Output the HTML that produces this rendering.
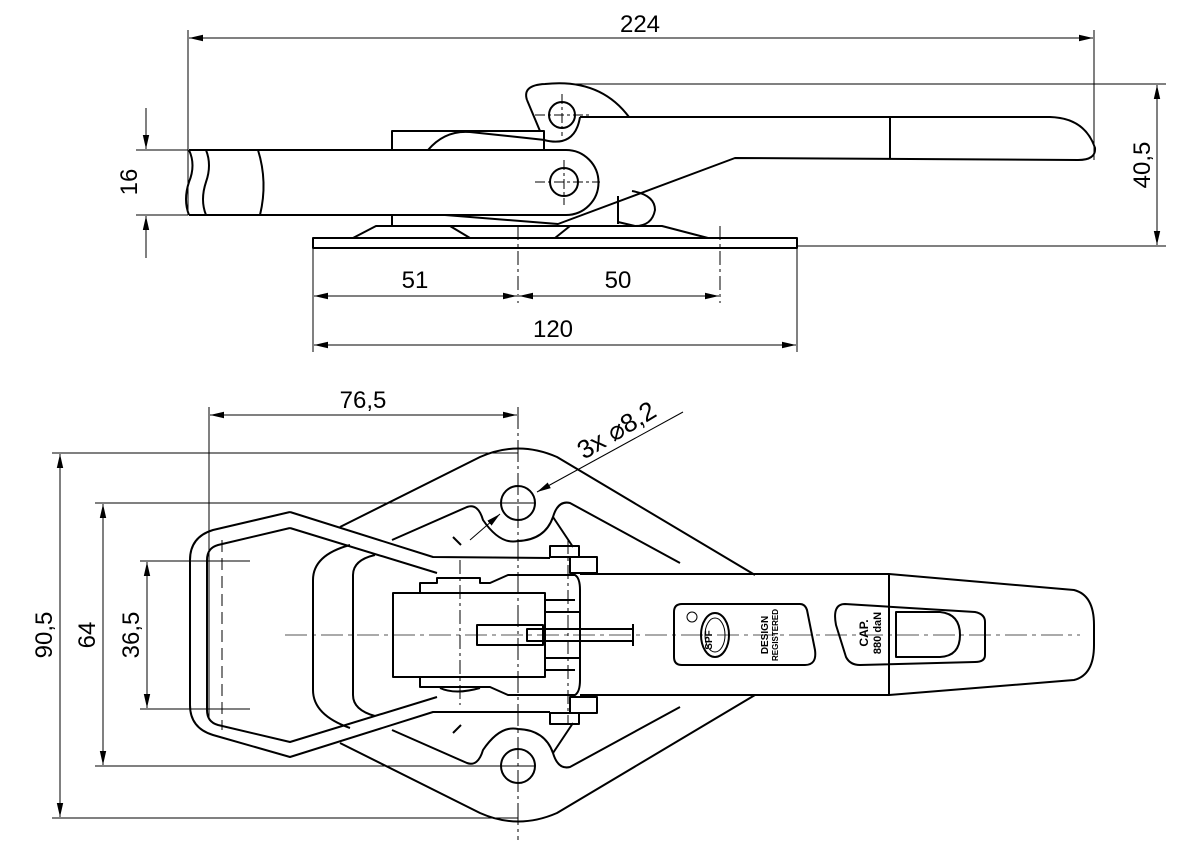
<!DOCTYPE html>
<html><head><meta charset="utf-8"><style>
html,body{margin:0;padding:0;background:#fff;}
svg{display:block;}
text{font-family:"Liberation Sans",sans-serif;fill:#000;}
</style></head><body>
<svg width="1200" height="848" viewBox="0 0 1200 848" xmlns="http://www.w3.org/2000/svg">
<defs>
<marker id="a" markerWidth="14" markerHeight="8" refX="14" refY="4" orient="auto-start-reverse" markerUnits="userSpaceOnUse">
<path d="M0,0.8 L14,4 L0,7.2 Z" fill="#000"/></marker>
</defs>
<g fill="none" stroke="#000" stroke-width="1">
<!-- TOP VIEW dims -->
<line x1="188" y1="30" x2="188" y2="215"/>
<line x1="1094" y1="30" x2="1094" y2="160"/>
<line x1="189" y1="38" x2="1093" y2="38" marker-start="url(#a)" marker-end="url(#a)"/>
<line x1="136" y1="150" x2="188" y2="150"/>
<line x1="136" y1="215" x2="188" y2="215"/>
<line x1="146" y1="108" x2="146" y2="149" marker-end="url(#a)"/>
<line x1="146" y1="258" x2="146" y2="216" marker-end="url(#a)"/>
<line x1="575" y1="84" x2="1166" y2="84"/>
<line x1="797" y1="246" x2="1166" y2="246"/>
<line x1="1157" y1="85" x2="1157" y2="245" marker-start="url(#a)" marker-end="url(#a)"/>
<line x1="313" y1="248" x2="313" y2="352"/>
<line x1="797" y1="248" x2="797" y2="352"/>
<line x1="720" y1="226" x2="720" y2="303" stroke-dasharray="14,4,3,4"/>
<line x1="518" y1="226" x2="518" y2="303" stroke-dasharray="14,4,3,4"/>
<line x1="314" y1="296" x2="517" y2="296" marker-start="url(#a)" marker-end="url(#a)"/>
<line x1="519" y1="296" x2="719" y2="296" marker-start="url(#a)" marker-end="url(#a)"/>
<line x1="314" y1="345" x2="796" y2="345" marker-start="url(#a)" marker-end="url(#a)"/>
<!-- center marks top -->
<line x1="535" y1="182" x2="600" y2="182" stroke-dasharray="10,3,3,3"/>
<line x1="564" y1="160" x2="564" y2="205" stroke-dasharray="10,3,3,3"/>
<line x1="535" y1="115" x2="590" y2="115" stroke-dasharray="10,3,3,3"/>
<line x1="562" y1="94" x2="562" y2="136" stroke-dasharray="10,3,3,3"/>

<!-- BOTTOM VIEW dims -->
<line x1="209" y1="407" x2="209" y2="720"/>
<line x1="518" y1="407" x2="518" y2="840" stroke-dasharray="22,4,3,4"/>
<line x1="210" y1="415" x2="517" y2="415" marker-start="url(#a)" marker-end="url(#a)"/>
<line x1="52" y1="453" x2="518" y2="453"/>
<line x1="52" y1="818" x2="518" y2="818"/>
<line x1="60" y1="454" x2="60" y2="817" marker-start="url(#a)" marker-end="url(#a)"/>
<line x1="95" y1="503" x2="535" y2="503"/>
<line x1="95" y1="766" x2="535" y2="766"/>
<line x1="103" y1="504" x2="103" y2="765" marker-start="url(#a)" marker-end="url(#a)"/>
<line x1="140" y1="561" x2="250" y2="561"/>
<line x1="140" y1="709" x2="250" y2="709"/>
<line x1="147" y1="562" x2="147" y2="708" marker-start="url(#a)" marker-end="url(#a)"/>
<line x1="683" y1="412" x2="537" y2="492" marker-end="url(#a)"/>
<line x1="470" y1="540" x2="500" y2="514" marker-end="url(#a)"/>
<line x1="285" y1="635" x2="1080" y2="635" stroke-dasharray="22,5,4,5" stroke="#555"/>
<line x1="222" y1="540" x2="222" y2="730" stroke-dasharray="12,6"/>
<line x1="460" y1="560" x2="460" y2="705" stroke-dasharray="14,4,3,4"/>
<line x1="568" y1="540" x2="568" y2="725" stroke-dasharray="14,4,3,4"/>
</g>

<g font-size="24">
<text x="640" y="32" text-anchor="middle">224</text>
<text x="415" y="288" text-anchor="middle">51</text>
<text x="618" y="288" text-anchor="middle">50</text>
<text x="553" y="337" text-anchor="middle">120</text>
<text x="363" y="408" text-anchor="middle">76,5</text>
<text transform="translate(137,182) rotate(-90)" text-anchor="middle">16</text>
<text transform="translate(1150,165) rotate(-90)" text-anchor="middle">40,5</text>
<text transform="translate(52,635) rotate(-90)" text-anchor="middle">90,5</text>
<text transform="translate(95,635) rotate(-90)" text-anchor="middle">64</text>
<text transform="translate(139,635) rotate(-90)" text-anchor="middle">36,5</text>
<text transform="translate(584,460) rotate(-31)" font-size="26">3x ⌀8,2</text>
</g>

<g fill="none" stroke="#000" stroke-width="2" stroke-linejoin="round">
<!-- TOP VIEW object -->
<rect x="313" y="238" width="484" height="10"/>
<path d="M353,238 L376,226 L662,226 L708,238"/>
<path d="M450,226 L470,238 M555,238 L570,226"/>
<rect x="392" y="131" width="152" height="19"/>
<line x1="392" y1="215" x2="392" y2="226"/>
<path d="M428,150 Q445,130 470,132 L545,140"/>
<path d="M189,150 L566,150 A32,32 0 0 1 566,215 L189,215"/>
<path d="M189,150 Q196,165 189,182 Q183,200 189,215"/>
<path d="M206,150 Q212,165 206,182 Q200,200 206,215"/>
<path d="M258,150 Q268,182 260,215"/>
<circle cx="564" cy="182" r="14"/>
<circle cx="562" cy="115" r="13"/>
<path d="M527,100 Q522,85 545,84 Q600,78 629,117"/>
<path d="M527,100 L540,131 M544,140 Q575,148 580,117"/>
<path d="M580,117 L1050,117 Q1085,118 1095,148 Q1096,160 1078,160 L735,158 L558,224 L445,215"/>
<line x1="890" y1="117" x2="890" y2="158"/>
<path d="M618,196 L618,224 M632,191 Q655,195 655,210 Q652,226 635,226 L618,222"/>

<!-- BOTTOM VIEW object -->
<circle cx="518" cy="503" r="17"/>
<circle cx="518" cy="766" r="17"/>
<path d="M340,527 L480,457 Q518,440 557,457 L755,575"/>
<path d="M340,743 L480,813 Q518,830 557,813 L755,695"/>
<path d="M392,540 L467,507 Q478,503 483,520 Q500,545 518,541 Q545,540 553,517 Q558,500 570,503 L680,563"/>
<path d="M392,730 L467,763 Q478,767 483,750 Q500,725 518,729 Q545,730 553,753 Q558,770 570,767 L680,707"/>
<path d="M553,517 L573,547 M553,753 L573,723"/>
<path d="M453,537 L461,545 M453,733 L461,725"/>
<path d="M350,545 Q313,555 313,580 L313,690 Q313,715 350,728"/>
<path d="M375,555 Q353,560 353,575 L353,695 Q353,710 375,716"/>
<!-- bail -->
<path d="M290,512 L433,557 L550,558 M290,512 L213,530 Q190,537 190,560 L190,705 Q190,728 213,735 L290,757 L433,712 L550,712"/>
<path d="M290,528 L437,573 M290,528 L218,545 Q207,548 207,560 L207,710 Q207,722 218,725 L290,742 L437,697"/>
<!-- mechanism -->
<rect x="550" y="546" width="29" height="11"/>
<rect x="570" y="557" width="27" height="16"/>
<rect x="550" y="713" width="29" height="11"/>
<rect x="570" y="697" width="27" height="16"/>
<path d="M420,593 L420,583 L437,583 L437,578 L480,578 L480,583 L490,583 L508,575 L575,575 Q580,578 580,590 L580,680 Q580,692 575,695 L508,695 L490,687 L420,687 L420,677"/>
<rect x="393" y="593" width="152" height="84"/>
<path d="M545,600 L575,600 M545,670 L575,670 M545,612 L580,612 M545,658 L580,658"/>
<rect x="477" y="625" width="66" height="20"/>
<rect x="527" y="629" width="106" height="12"/>
<line x1="633" y1="624" x2="633" y2="646"/>
<path d="M440,688 Q455,695 480,688"/>
<!-- handle -->
<path d="M580,574 L889,574 L1074,590 Q1094,595 1094,625 L1094,645 Q1094,675 1074,680 L889,695 L580,695"/>
<line x1="889" y1="574" x2="889" y2="695"/>
<path d="M682,604 L800,604 Q805,604 807,610 L815,650 Q817,665 805,665 L682,665 Q674,665 674,657 L674,612 Q674,604 682,604 Z"/>
<path d="M845,604 L975,612 Q985,614 985,622 L985,655 Q985,662 975,662 L860,665 Q850,665 846,657 L836,625 Q832,604 845,604 Z"/>
<path d="M896,612 L940,612 Q960,614 960,635 Q960,656 940,657 L896,657 Z"/>
<ellipse cx="715" cy="635" rx="14" ry="22"/>
</g>
<g stroke-width="1" stroke="#000" fill="none">
<circle cx="692" cy="617" r="5"/>
<ellipse cx="715" cy="635" rx="10" ry="17"/>
</g>
<text transform="translate(768,635) rotate(-90)" text-anchor="middle" font-size="10" font-weight="bold">DESIGN</text>
<text transform="translate(778,635) rotate(-90)" text-anchor="middle" font-size="8" font-weight="bold">REGISTERED</text>
<text transform="translate(868,633) rotate(-90)" text-anchor="middle" font-size="12" font-weight="bold">CAP.</text>
<text transform="translate(881,633) rotate(-90)" text-anchor="middle" font-size="11" font-weight="bold">880 daN</text>
<text transform="translate(712,640) rotate(-90)" text-anchor="middle" font-size="10" font-weight="bold">SPF</text>
</svg>
</body></html>
